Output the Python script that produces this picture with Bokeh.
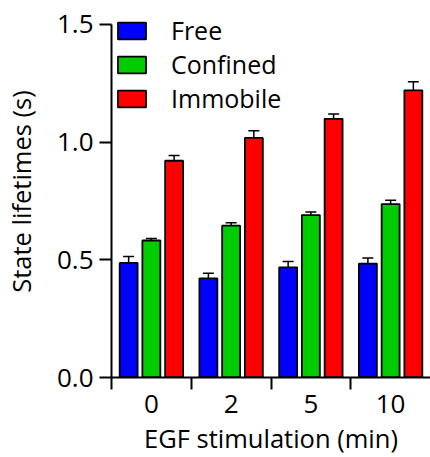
from bokeh.plotting import figure
from bokeh.models import (ColumnDataSource, Range1d, FixedTicker, Whisker, TeeHead,
                          Legend, LegendItem)
from bokeh.embed import file_html
from bokeh.resources import INLINE

categories = ["0", "2", "5", "10"]
series = ["Free", "Confined", "Immobile"]
free = [0.487, 0.421, 0.468, 0.484]
confined = [0.582, 0.645, 0.690, 0.737]
immobile = [0.921, 1.018, 1.099, 1.220]
free_err = [0.027, 0.022, 0.025, 0.024]
confined_err = [0.009, 0.012, 0.013, 0.016]
immobile_err = [0.022, 0.030, 0.021, 0.037]
colors = ["#0000FF", "#00CC00", "#FF0000"]
y_ticks = [0.0, 0.5, 1.0, 1.5]

FONT = "Open Sans"

p = figure(width=430, height=457, output_backend="svg", toolbar_location=None,
           x_range=Range1d(0, 4.0), y_range=Range1d(0, 1.5805),
           min_border_left=107, min_border_right=0, min_border_top=5,
           min_border_bottom=79)
p.outline_line_color = None
p.xgrid.visible = False
p.ygrid.visible = False
p.background_fill_color = "white"
p.border_fill_color = "white"

offsets = [-0.285, 0.0, 0.285]
values = [free, confined, immobile]
errs = [free_err, confined_err, immobile_err]
items = []
for s, vals, er, col, off in zip(series, values, errs, colors, offsets):
    xs = [i + 0.5 + off for i in range(len(categories))]
    src = ColumnDataSource(dict(x=xs, top=vals,
                                upper=[v + e for v, e in zip(vals, er)],
                                lower=[v - e for v, e in zip(vals, er)]))
    r = p.vbar(x="x", top="top", bottom=0, width=0.225, source=src,
               fill_color=col, line_color="black", line_width=1.8)
    w = Whisker(base="x", upper="upper", lower="lower", source=src,
                line_color="black", line_width=1.5,
                upper_head=TeeHead(size=11, line_color="black", line_width=1.5),
                lower_head=TeeHead(size=11, line_color="black", line_width=1.5))
    p.add_layout(w)
    items.append(LegendItem(label=s, renderers=[r]))

legend = Legend(items=items, location=(3, 262), glyph_width=35, glyph_height=21,
                label_standoff=22, spacing=0, padding=0, margin=0,
                border_line_color=None, background_fill_alpha=0,
                label_text_font=FONT, label_text_font_size="25px",
                label_text_color="black")
p.add_layout(legend, "center")

# x axis
p.xaxis.ticker = FixedTicker(ticks=[i + 0.5 for i in range(len(categories))],
                             minor_ticks=list(range(len(categories))))
p.xaxis.major_label_overrides = {i + 0.5: c for i, c in enumerate(categories)}
p.xaxis.major_tick_out = 0
p.xaxis.major_tick_in = 0
p.xaxis.minor_tick_out = 12
p.xaxis.minor_tick_in = 0
p.xaxis.minor_tick_line_width = 2
p.xaxis.axis_line_width = 2
p.xaxis.major_label_standoff = 5
p.xaxis.axis_label = "EGF stimulation (min)"
p.xaxis.axis_label_standoff = 5

# y axis
p.yaxis.ticker = FixedTicker(ticks=y_ticks, minor_ticks=[])
p.yaxis.major_label_overrides = {t: f"{t:.1f}" for t in y_ticks}
p.yaxis.bounds = (y_ticks[0], y_ticks[-1])
p.yaxis.major_tick_out = 12
p.yaxis.major_tick_in = 0
p.yaxis.major_tick_line_width = 2
p.yaxis.axis_line_width = 2
p.yaxis.major_label_standoff = 6
p.yaxis.axis_label = "State lifetimes (s)"
p.yaxis.axis_label_standoff = 16

for ax in (p.xaxis, p.yaxis):
    ax.major_label_text_font = FONT
    ax.major_label_text_font_size = "26px"
    ax.major_label_text_color = "black"
    ax.axis_label_text_font = FONT
    ax.axis_label_text_font_size = "25.5px"
    ax.axis_label_text_font_style = "normal"
    ax.axis_label_text_color = "black"
    ax.axis_line_color = "black"
    ax.major_tick_line_color = "black"
    ax.minor_tick_line_color = "black"

open("out.html", "w").write(file_html(p, INLINE))
